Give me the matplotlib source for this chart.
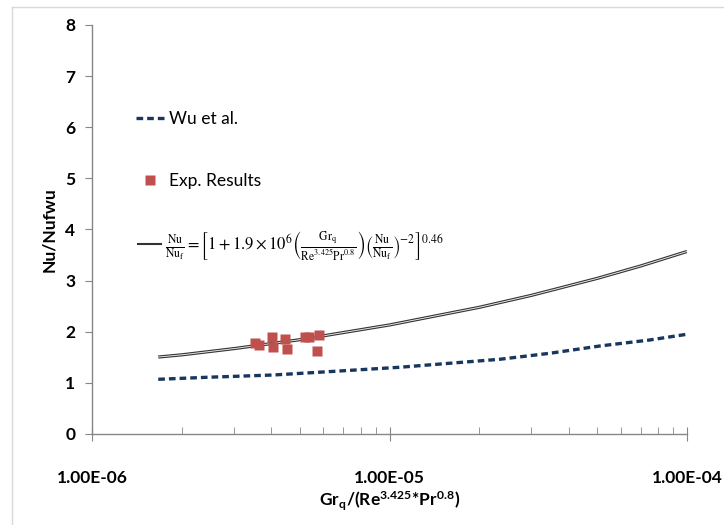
import matplotlib
matplotlib.use("Agg")
import matplotlib.pyplot as plt
from matplotlib.lines import Line2D
import matplotlib.patheffects as pe

# ---- data ----
corr_x = [1.67e-6, 2e-6, 3e-6, 5e-6, 1e-5, 2e-5, 3e-5, 5e-5, 7e-5, 1e-4]
corr_y = [1.505, 1.548, 1.67, 1.845, 2.133, 2.477, 2.712, 3.045, 3.288, 3.57]

wu_x = [1.67e-6, 2.43e-6, 4.07e-6, 6.82e-6, 1.08e-5, 2.35e-5, 3.46e-5, 5.10e-5, 7.52e-5, 1.0e-4]
wu_y = [1.07, 1.109, 1.154, 1.233, 1.305, 1.462, 1.579, 1.722, 1.840, 1.951]

exp_x = [3.53e-6, 3.64e-6, 4.02e-6, 4.07e-6, 4.45e-6, 4.51e-6, 5.20e-6, 5.36e-6, 5.80e-6, 5.69e-6]
exp_y = [1.775, 1.736, 1.892, 1.697, 1.859, 1.658, 1.892, 1.904, 1.93, 1.624]

y_ticks = [0, 1, 2, 3, 4, 5, 6, 7, 8]
x_ticks = [1e-6, 1e-5, 1e-4]
x_ticklabels = ["1.00E-06", "1.00E-05", "1.00E-04"]

wu_label = "Wu et al."
exp_label = "Exp. Results"
corr_label = (r"$\frac{\mathrm{Nu}}{\mathrm{Nu_f}}=\left[1+1.9\times10^{6}"
              r"\left(\frac{\mathrm{Gr_q}}{\mathrm{Re^{3.425}Pr^{0.8}}}\right)"
              r"\left(\frac{\mathrm{Nu}}{\mathrm{Nu_f}}\right)^{-2}\right]^{0.46}$")

# ---- style ----
plt.rcParams['font.family'] = ['Lato', 'DejaVu Sans']
plt.rcParams['mathtext.fontset'] = 'stix'
navy = '#17375E'
red = '#C0504D'
grey = '#868686'

fig = plt.figure(figsize=(7.24, 5.25), dpi=100)
W, H = 724, 525
ax = fig.add_axes([92 / W, (H - 434) / H, (687 - 92) / W, (434 - 25) / H])

# outer chart frame
fig.add_artist(Line2D([12 / W, 1.0], [1 - 7 / H, 1 - 7 / H], color='#d9d9d9', lw=1,
                      transform=fig.transFigure))
fig.add_artist(Line2D([12 / W, 12 / W], [0, 1 - 7 / H], color='#d9d9d9', lw=1,
                      transform=fig.transFigure))

pe_double = [pe.Stroke(linewidth=2.3, foreground='#333333'), pe.Normal()]
corr_line, = ax.plot(corr_x, corr_y, color='#e8e8e8', lw=0.7, path_effects=pe_double,
                     solid_capstyle='butt', zorder=3)
wu_line, = ax.plot(wu_x, wu_y, color=navy, lw=2.4, linestyle=(0, (2.0, 1.2)), zorder=3)
exp_pts, = ax.plot(exp_x, exp_y, 's', color=red, ms=7.2, mec='none', zorder=4)

ax.set_xscale('log')
ax.set_xlim(1e-6, 1e-4)
ax.set_ylim(0, 8)

ax.set_yticks(y_ticks)
ax.set_yticklabels([str(v) for v in y_ticks])
ax.set_xticks(x_ticks)
ax.set_xticklabels(x_ticklabels)

for s in ['top', 'right']:
    ax.spines[s].set_visible(False)
for s in ['left', 'bottom']:
    ax.spines[s].set_color(grey)
    ax.spines[s].set_linewidth(1.0)

ax.tick_params(axis='y', which='major', direction='out', length=5, color=grey,
               labelsize=12.5, pad=7)
ax.tick_params(axis='x', which='major', direction='inout', length=10, color=grey,
               labelsize=12.5, pad=21)
ax.tick_params(axis='x', which='minor', direction='in', length=5, color=grey)
for lab in ax.get_xticklabels() + ax.get_yticklabels():
    lab.set_fontweight('bold')

ax.set_ylabel("Nu/Nufwu", fontsize=12.5, fontweight='bold', labelpad=6)
ax.set_xlabel(r"Gr$_\mathregular{q}$/(Re$^\mathregular{3.425}$*Pr$^\mathregular{0.8}$)",
              fontsize=12.5, fontweight='bold', labelpad=3)

# legends placed inside plot area
leg1 = ax.legend([wu_line], [wu_label], loc='center left', frameon=False,
                 bbox_to_anchor=(0.062, (434 - 119) / 409), handlelength=1.6,
                 handletextpad=0.3, fontsize=12.5, borderaxespad=0)
ax.add_artist(leg1)
leg2 = ax.legend([exp_pts], [exp_label], loc='center left', frameon=False,
                 bbox_to_anchor=(0.062, (434 - 181) / 409), handlelength=1.6,
                 handletextpad=0.3, fontsize=12.5, borderaxespad=0)
ax.add_artist(leg2)
leg3 = ax.legend([Line2D([], [], color='#333333', lw=1.5)], [corr_label],
                 loc='center left', frameon=False,
                 bbox_to_anchor=(0.066, (434 - 245) / 409), handlelength=1.4,
                 handletextpad=0.25, fontsize=12, borderaxespad=0)

fig.savefig("out.png", dpi=100)
